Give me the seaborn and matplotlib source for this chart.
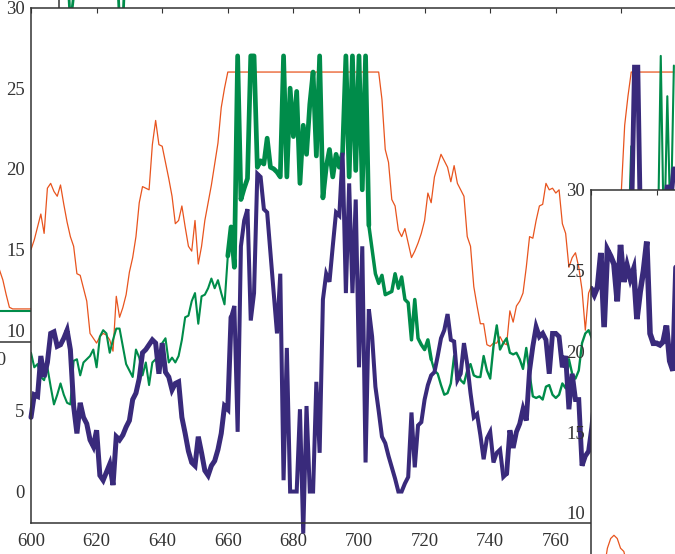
import numpy as np
import pandas as pd
import matplotlib
matplotlib.use("Agg")
import matplotlib.pyplot as plt
import seaborn as sns

# ---------------- data ----------------
x_main = list(range(600, 797))

orange = [
    15.0, 15.6, 16.4, 17.2, 16.0, 18.8, 19.1, 18.6, 18.3, 19.0,
    17.8, 16.7, 15.8, 15.2, 13.5, 13.4, 12.6, 11.8, 9.8, 9.5,
    9.2, 9.6, 9.8, 9.7, 9.4, 8.7, 12.1, 10.8, 11.4, 12.2,
    13.6, 14.5, 15.8, 17.9, 18.9, 18.8, 18.7, 21.5, 23.0, 21.5,
    21.4, 20.4, 19.4, 18.3, 16.6, 16.8, 17.7, 16.4, 15.2, 14.9,
    16.8, 14.1, 15.2, 16.8, 17.9, 19.0, 20.3, 21.6, 23.8, 25.0,
    26, 26, 26, 26, 26, 26, 26, 26, 26, 26,
    26, 26, 26, 26, 26, 26, 26, 26, 26, 26,
    26, 26, 26, 26, 26, 26, 26, 26, 26, 26,
    26, 26, 26, 26, 26, 26, 26, 26, 26, 26,
    26, 26, 26, 26, 26, 26, 26, 24.3, 21.2, 20.4,
    18.1, 17.7, 16.2, 15.8, 16.3, 15.4, 14.5, 14.9, 15.4, 16.0,
    16.8, 18.5, 17.9, 19.5, 20.2, 20.9, 20.5, 20.1, 19.2, 20.2,
    19.1, 18.7, 18.3, 15.8, 15.2, 12.7, 11.5, 10.4, 10.4, 9.1,
    9.0, 9.2, 9.2, 9.6, 9.2, 9.1, 11.2, 10.5, 11.5, 11.8,
    12.3, 13.9, 15.8, 15.7, 16.8, 17.7, 17.8, 19.1, 18.7, 18.8,
    18.5, 18.7, 16.6, 16.0, 13.9, 14.5, 14.8, 13.9, 12.5, 10.0,
    12.3, 12.8, 13.5, 14.2, 15.0, 15.8, 16.5, 17.2, 17.8, 18.3,
    18.7, 22.7, 24.5, 26, 26, 26, 26, 26, 26, 26,
    26, 26, 26, 26, 26, 26, 26,
]

green = [
    8.6, 7.7, 7.9, 7.1, 6.9, 7.7, 6.5, 5.4, 6.0, 6.7,
    6.0, 5.5, 5.4, 8.1, 8.2, 7.2, 8.0, 8.2, 8.4, 8.8,
    7.7, 9.6, 10.0, 9.8, 8.6, 9.4, 10.1, 10.1, 9.0, 7.9,
    7.5, 7.1, 8.8, 8.3, 7.2, 8.0, 6.6, 8.0, 8.2, 8.2,
    9.2, 9.5, 8.0, 8.3, 8.0, 8.4, 9.4, 10.8, 10.9, 11.8,
    12.3, 10.4, 12.1, 12.2, 12.6, 13.2, 12.6, 13.1, 12.3, 11.6,
    14.6, 16.4, 13.9, 27.0, 18.1, 18.8, 19.4, 27.0, 27.0, 20.1,
    20.5, 20.3, 21.9, 20.1, 20.0, 19.8, 19.5, 27.0, 19.5, 25.0,
    22.0, 24.8, 19.1, 22.7, 20.9, 24.0, 26.0, 20.8, 27.0, 18.2,
    20.1, 21.2, 19.5, 20.9, 20.1, 21.0, 27.0, 19.5, 27.0, 19.9,
    27.0, 18.7, 27.0, 16.5, 15.0, 13.5, 12.9, 13.4, 12.2, 12.3,
    12.4, 13.5, 12.6, 13.3, 11.9, 11.7, 9.4, 11.9, 9.5, 9.1,
    8.8, 9.4, 8.2, 7.5, 7.3, 6.6, 6.0, 6.1, 6.7, 8.4,
    7.5, 6.9, 6.7, 7.5, 7.9, 7.2, 7.1, 7.1, 8.4, 7.5,
    7.0, 9.0, 10.3, 8.8, 9.2, 9.5, 8.6, 8.5, 8.6, 8.2,
    7.6, 8.9, 7.3, 5.9, 5.8, 5.9, 5.7, 6.5, 6.6, 6.0,
    5.8, 6.0, 6.7, 6.4, 8.2, 7.3, 7.0, 7.5, 9.2, 9.8,
    10.0, 9.5, 10.0, 11.0, 10.5, 12.0, 11.5, 12.5, 13.0, 12.5,
    13.5, 14.0, 14.5, 21.4, 15.0, 15.5, 15.8, 16.0, 16.5, 17.0,
    16.5, 14.0, 27.0, 15.0, 24.5, 16.0, 26.4,
]

purple = [
    4.6, 6.0, 5.9, 8.4, 7.1, 8.0, 9.8, 9.9, 9.0, 9.1,
    9.5, 10.0, 8.8, 5.3, 3.6, 5.5, 4.6, 4.2, 3.2, 2.8,
    3.8, 1.0, 0.7, 1.2, 1.7, 0.4, 3.4, 3.2, 3.5, 4.0,
    4.4, 5.7, 6.1, 7.0, 8.6, 8.8, 9.1, 9.4, 9.2, 7.3,
    9.2, 7.4, 7.1, 6.3, 6.7, 6.8, 4.6, 3.6, 2.5, 1.8,
    1.6, 3.4, 2.4, 1.3, 1.0, 1.6, 1.9, 2.6, 3.6, 5.3,
    5.1, 10.8, 11.5, 3.7, 15.2, 16.8, 17.5, 10.6, 12.3, 19.7,
    19.5, 17.5, 17.3, 14.8, 12.3, 9.8, 13.5, 0.7, 8.9, 0.0,
    0.0, 0.0, 5.1, -2.6, 5.3, 0.0, 0.0, 6.8, 2.4, 11.9,
    13.5, 13.0, 15.2, 17.3, 17.1, 21.0, 12.3, 19.1, 12.3, 18.1,
    7.7, 15.2, 1.8, 11.3, 9.6, 6.5, 5.0, 3.4, 3.0, 2.2,
    1.5, 0.8, 0.0, 0.0, 0.5, 0.9, 4.9, 1.5, 4.1, 4.3,
    5.7, 6.6, 7.2, 7.4, 8.4, 9.5, 10.0, 11.0, 9.4, 9.3,
    6.9, 7.3, 9.2, 7.9, 6.1, 4.6, 4.8, 3.5, 2.0, 3.3,
    3.7, 1.8, 2.4, 2.6, 0.9, 1.1, 3.8, 2.7, 3.7, 4.2,
    5.1, 4.4, 7.5, 9.0, 10.2, 9.6, 9.8, 9.4, 7.3, 9.8,
    9.8, 9.6, 7.7, 8.4, 5.1, 7.3, 5.7, 5.7, 1.6, 2.2,
    2.5, 4.0, 6.0, 8.0, 10.0, 9.0, 11.0, 12.0, 10.0, 13.0,
    12.0, 14.0, 15.0, 16.0, 26.3, 26.3, 14.0, 15.0, 16.0, 14.0,
    17.0, 16.0, 18.0, 17.0, 19.0, 18.0, 20.0,
]

# second panel (lower right)
x_inset = list(range(600, 628))
inset_purple = [
    23.9, 23.5, 24.0, 26.1, 21.5, 26.3, 25.9, 25.4, 23.1, 26.6,
    24.3, 25.3, 24.5, 25.1, 22.0, 23.7, 25.0, 26.8, 21.1, 20.5,
    20.5, 20.4, 20.6, 21.6, 19.4, 18.8, 25.8, 24.5,
]
inset_orange = [
    4.0, 4.5, 5.0, 5.8, 6.5, 7.8, 8.4, 8.6, 8.4, 7.8,
    7.6, 6.8, 6.0, 5.5, 5.2, 5.0, 5.0, 5.0, 5.0, 5.0,
    5.0, 5.0, 5.0, 5.0, 5.0, 5.0, 5.0, 5.0,
]

# panel on the left (mostly outside the picture)
x_left = list(range(778, 801))
left_orange = [6.0, 5.0, 4.0, 3.2, 2.5, 1.9, 1.0, 0.2] + [0.1] * 15
left_green = [0.0] * 23

# panel above (mostly outside the picture)
x_top = list(range(608, 633))
top_green = [
    5.0, 4.0, 2.0, 1.0, -3.0, -1.2, 1.0, 4.0, 5.0, 5.0,
    5.0, 5.0, 5.0, 5.0, 5.0, 5.0, 5.0, 5.0, 2.0, -3.0,
    -3.0, 2.0, 5.0, 5.0, 5.0,
]

x_ticks = [600, 620, 640, 660, 680, 700, 720, 740, 760, 780]
x_tick_labels = ["600", "620", "640", "660", "680", "700", "720", "740", "760", "780"]
y_ticks = [0, 5, 10, 15, 20, 25, 30]
y_tick_labels = ["0", "5", "10", "15", "20", "25", "30"]

# ---------------- style ----------------
C_OR = "#E8541E"
C_GR = "#008C4A"
C_PU = "#392A7B"
C_AX = "#333333"

sns.set_theme(style="white")
plt.rcParams["font.family"] = ["Liberation Serif", "DejaVu Serif"]

W, H = 675.0, 554.0
PW, PH = 656.0, 515.5


def rect(left_px, top_px):
    return [left_px / W, (H - top_px - PH) / H, PW / W, PH / H]


def style(ax, spines=True):
    ax.set_xlim(600, 800)
    ax.set_ylim(-1.95, 30)
    ax.set_xticks(x_ticks)
    ax.set_xticklabels(x_tick_labels)
    ax.set_yticks(y_ticks)
    ax.set_yticklabels(y_tick_labels)
    ax.tick_params(direction="in", length=3.6, width=0.8, colors=C_AX,
                   top=True, right=True, labelsize=13.5)
    ax.tick_params(axis="x", pad=7)
    ax.tick_params(axis="y", pad=4.5)
    for s in ax.spines.values():
        s.set_color(C_AX)
        s.set_linewidth(1.1)
        s.set_visible(spines)
    ax.set_xlabel("")
    ax.set_ylabel("")
    ax.grid(False)


fig = plt.figure(figsize=(6.75, 5.54), dpi=100)
fig.patch.set_facecolor("white")

# left panel
ax_l = fig.add_axes(rect(-597.4, 342 - PH), zorder=0)
ax_l.set_facecolor("none")
dfl = pd.DataFrame({"x": x_left, "orange": left_orange, "green": left_green})
sns.lineplot(data=dfl, x="x", y="green", ax=ax_l, color=C_GR, linewidth=1.5, estimator=None)
sns.lineplot(data=dfl, x="x", y="orange", ax=ax_l, color=C_OR, linewidth=0.9, estimator=None)
style(ax_l)

# top panel
ax_t = fig.add_axes(rect(31, 7.5 - PH), zorder=0)
ax_t.set_facecolor("none")
dft = pd.DataFrame({"x": x_top, "green": top_green})
sns.lineplot(data=dft, x="x", y="green", ax=ax_t, color=C_GR, linewidth=2.0, estimator=None)
style(ax_t, spines=False)
ax_t.tick_params(length=0, labelbottom=False, labelleft=False)

# main panel
ax = fig.add_axes(rect(31, 7.5), zorder=1)
ax.set_facecolor("white")
df = pd.DataFrame({"x": x_main, "orange": orange, "green": green, "purple": purple})
sns.lineplot(data=df, x="x", y="orange", ax=ax, color=C_OR, linewidth=0.9, estimator=None)
green_segments = [(600, 660, 1.5), (660, 703, 3.4), (703, 722, 2.5), (722, 781, 1.7), (781, 796, 1.5)]
for lo, hi, lw in green_segments:
    sub = df[(df["x"] >= lo) & (df["x"] <= hi)]
    sns.lineplot(data=sub, x="x", y="green", ax=ax, color=C_GR, linewidth=lw,
                 estimator=None, solid_joinstyle="round")
purple_segments = [(600, 661, 3.6), (661, 745, 2.9), (745, 796, 3.5)]
for lo, hi, lw in purple_segments:
    sub = df[(df["x"] >= lo) & (df["x"] <= hi)]
    sns.lineplot(data=sub, x="x", y="purple", ax=ax, color=C_PU, linewidth=lw,
                 estimator=None, solid_joinstyle="miter", clip_on=False)
style(ax)

# lower-right panel
ax_i = fig.add_axes(rect(591, 190), zorder=2)
ax_i.set_facecolor("white")
dfi = pd.DataFrame({"x": x_inset, "orange": inset_orange, "purple": inset_purple})
sns.lineplot(data=dfi, x="x", y="orange", ax=ax_i, color=C_OR, linewidth=0.9, estimator=None)
sns.lineplot(data=dfi, x="x", y="purple", ax=ax_i, color=C_PU, linewidth=4.0,
             estimator=None, solid_joinstyle="miter")
style(ax_i)

fig.savefig("out.png", dpi=100)
